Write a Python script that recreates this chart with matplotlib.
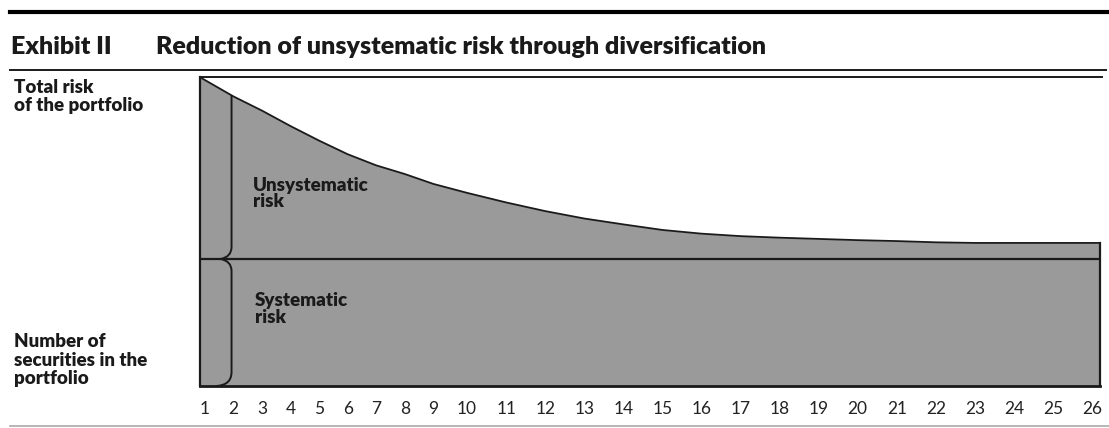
import numpy as np
import matplotlib
matplotlib.use("Agg")
import matplotlib.pyplot as plt
from matplotlib.path import Path
from matplotlib.patches import PathPatch
from matplotlib.lines import Line2D

# ---------------- data ----------------
securities = list(range(1, 27))
total_risk = [99.0, 93.7, 89.1, 84.1, 79.4, 75.0, 71.4, 68.6, 65.4, 62.5,
              59.4, 56.6, 54.2, 52.3, 50.5, 49.3, 48.5, 48.0, 47.6, 47.2,
              46.9, 46.5, 46.3, 46.3, 46.3, 46.3]
systematic_risk = 41.1
tick_labels = [str(n) for n in securities]

title_left = "Exhibit II"
title_main = "Reduction of unsystematic risk through diversification"
label_total = "Total risk\nof the portfolio"
label_number = "Number of\nsecurities in the\nportfolio"
label_unsys = "Unsystematic\nrisk"
label_sys = "Systematic\nrisk"

# ---------------- layout ----------------
W, H = 1109, 428
DPI = 100
FILL = "#9a9a9a"
INK = "#1a1a1a"
BOLD = "Lato"

# tick labels are laid out like a typed row: each label width + a constant gap
gap = 1.714
lengths = [len(t) for t in tick_labels]
lefts = np.concatenate([[0.0], np.cumsum([l + gap for l in lengths[:-1]])])
xpos = lefts + np.array(lengths) / 2.0

fig = plt.figure(figsize=(W / DPI, H / DPI), dpi=DPI)

def fx(px):
    return px / W

def fy(py):
    return 1 - py / H

ax_l, ax_r, ax_t, ax_b = 200, 1100, 77, 386
ax = fig.add_axes([fx(ax_l), fy(ax_b), fx(ax_r - ax_l), (ax_b - ax_t) / H])
scale = (1092 - 205) / (xpos[-1] - xpos[0])  # px per unit
x0 = xpos[0] - (205 - ax_l) / scale
x1 = xpos[-1] + (ax_r - 1092) / scale
ax.set_xlim(x0, x1)
ax.set_ylim(0, 100)

tr = np.array(total_risk)
slope = (tr[1] - tr[0]) / (xpos[1] - xpos[0])
xs = np.concatenate([[x0], xpos, [x1]])
ys = np.concatenate([[tr[0] + slope * (x0 - xpos[0])], tr, [tr[-1]]])

ax.fill_between(xs, 0, ys, color=FILL, lw=0)
ax.plot(xs, ys, color=INK, lw=1.3, solid_capstyle="butt", solid_joinstyle="round")
ax.axhline(systematic_risk, color=INK, lw=1.6)
# frame: left, bottom, right (below curve)
ax.plot([x0, x0], [0, 100], color=INK, lw=1.6, clip_on=False)
ax.plot([x0, x1], [0, 0], color=INK, lw=2.0, clip_on=False)
ax.plot([x1, x1], [0, ys[-1]], color=INK, lw=1.6, clip_on=False)

for s in ax.spines.values():
    s.set_visible(False)
ax.set_yticks([])
ax.set_xticks(xpos)
ax.set_xticklabels(tick_labels, fontsize=12.5, family="Lato", color="#222222")
ax.tick_params(axis="x", length=0, pad=11)

# braces
pxx = 1 / scale
pxy = 100 / (ax_b - ax_t)
bx = xpos[1] - 2 * pxx
top_y = np.interp(bx, xs, ys)
tipx = bx - 11 * pxx
verts = [(bx, top_y), (bx, systematic_risk + 12 * pxy),
         (bx, systematic_risk + 2 * pxy), (tipx, systematic_risk),
         (bx, systematic_risk - 2 * pxy), (bx, systematic_risk - 12 * pxy),
         (bx, 14 * pxy),
         (bx, 1 * pxy), (bx - 15 * pxx, 0)]
codes = [Path.MOVETO, Path.LINETO, Path.CURVE3, Path.CURVE3,
         Path.CURVE3, Path.CURVE3, Path.LINETO, Path.CURVE3, Path.CURVE3]
ax.add_patch(PathPatch(Path(verts, codes), fill=False, ec=INK, lw=1.4))

# decorative rules
fig.add_artist(Line2D([fx(10), 1], [fy(12), fy(12)], color="black", lw=3.0))
fig.add_artist(Line2D([fx(10), fx(1106)], [fy(70), fy(70)], color=INK, lw=1.4))
fig.add_artist(Line2D([fx(200), fx(1102)], [fy(77), fy(77)], color=INK, lw=1.4))
fig.add_artist(Line2D([fx(10), 1], [fy(426), fy(426)], color="#aaaaaa", lw=1.2))

# titles and labels
fig.text(fx(11), fy(54), title_left, family=BOLD, weight="heavy", fontsize=18,
         color=INK, va="baseline", ha="left")
fig.text(fx(156), fy(54), title_main, family=BOLD, weight="heavy", fontsize=18,
         color=INK, va="baseline", ha="left")

def put_lines(text, x, baselines, size=13.5):
    for line, b in zip(text.split("\n"), baselines):
        fig.text(fx(x), fy(b), line, family=BOLD, weight="heavy", fontsize=size,
                 color=INK, va="baseline", ha="left")

put_lines(label_total, 14, [93, 111])
put_lines(label_number, 14, [347, 366, 384])
put_lines(label_unsys, 253, [191, 207])
put_lines(label_sys, 255, [306, 323])

fig.savefig("out.png", dpi=DPI)
